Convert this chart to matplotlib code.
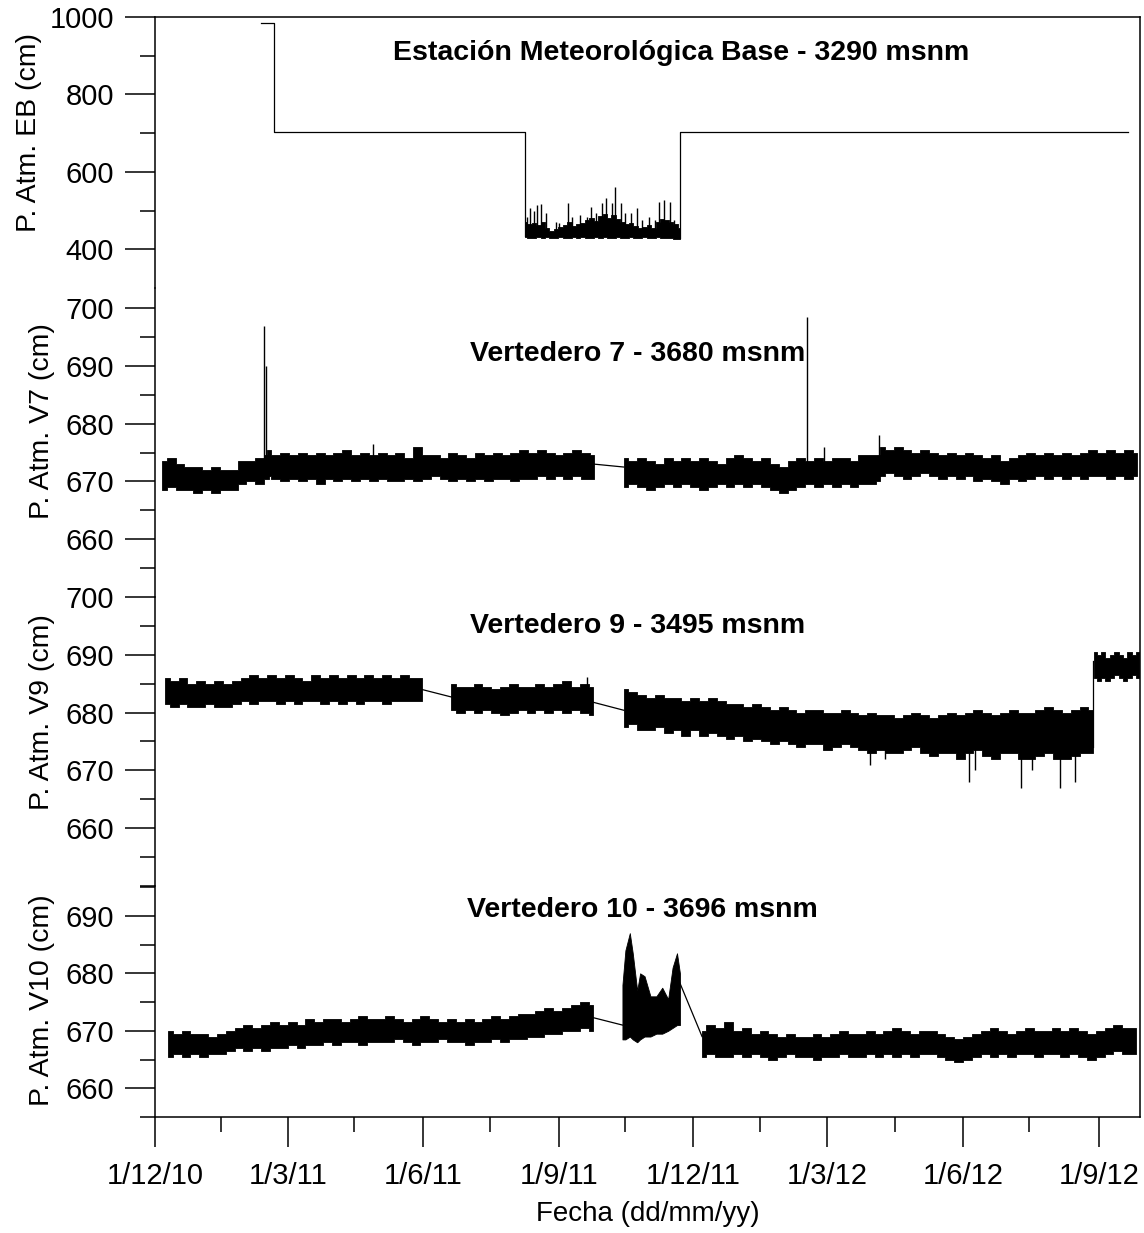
import matplotlib
matplotlib.use("Agg")
import matplotlib.pyplot as plt
import matplotlib.dates as mdates
from matplotlib.ticker import FixedLocator, FixedFormatter
import pandas as pd

plt.rcParams['font.family'] = ['Liberation Sans', 'DejaVu Sans']

# ---- x axis ----
x_ticks = ['2010-12-01', '2011-03-01', '2011-06-01', '2011-09-01', '2011-12-01',
           '2012-03-01', '2012-06-01', '2012-09-01']
x_labels = ['1/12/10', '1/3/11', '1/6/11', '1/9/11', '1/12/11', '1/3/12', '1/6/12', '1/9/12']
x_minor = ['2011-01-15', '2011-04-15', '2011-07-16', '2011-10-16', '2012-01-15',
           '2012-04-16', '2012-07-16']

titles = ['Estación Meteorológica Base - 3290 msnm', 'Vertedero 7 - 3680 msnm',
          'Vertedero 9 - 3495 msnm', 'Vertedero 10 - 3696 msnm']
ylabels = ['P. Atm. EB (cm)', 'P. Atm. V7 (cm)', 'P. Atm. V9 (cm)', 'P. Atm. V10 (cm)']

# ---- Estacion Base ----
eb_line1_dates = ['2011-02-11', '2011-02-20', '2011-02-20', '2011-08-09', '2011-08-09']
eb_line1_vals = [985, 985, 703, 703, 435]
eb_band_start = '2011-08-09'
eb_band_lo = [432, 430, 428, 431, 429, 432, 430, 428, 431, 430, 429, 432, 430, 431, 429, 430,
              432, 430, 431, 429, 430, 432, 430, 429, 431, 430, 428, 431, 430, 429, 431, 430,
              428, 429, 427, 426]
eb_band_hi = [470, 465, 468, 462, 470, 455, 448, 452, 458, 462, 470, 460, 465, 468, 475, 480,
              472, 485, 490, 482, 488, 478, 470, 465, 468, 460, 455, 458, 462, 455, 470, 478,
              475, 470, 465, 455]
eb_line2_dates = ['2011-11-22', '2011-11-22', '2012-09-21']
eb_line2_vals = [430, 703, 703]
eb_spike_dates = ['2011-08-10', '2011-08-12', '2011-08-15', '2011-08-17', '2011-08-20',
                  '2011-08-23', '2011-08-30', '2011-09-01', '2011-09-07', '2011-09-10',
                  '2011-09-15', '2011-09-20', '2011-09-23', '2011-09-26', '2011-09-30',
                  '2011-10-03', '2011-10-07', '2011-10-09', '2011-10-13', '2011-10-16',
                  '2011-10-20', '2011-10-24', '2011-10-27', '2011-11-01', '2011-11-05',
                  '2011-11-08', '2011-11-11', '2011-11-15', '2011-11-18']
eb_spike_tops = [483, 506, 500, 514, 516, 493, 470, 467, 519, 483, 488, 483, 509, 493, 519,
                 532, 519, 560, 519, 493, 493, 506, 475, 483, 475, 522, 527, 522, 475]

# ---- Vertedero 7 ----
v7_a_start = '2010-12-06'
v7_a_lo = [668.5, 669, 668.5, 668.5, 668, 668.5, 668, 668.5, 668.5, 669.5, 670, 669.5, 670.5]
v7_a_hi = [673.5, 674, 673, 672.5, 672.5, 672, 672.5, 672, 672, 673.5, 673.5, 674, 674.5]
v7_b_start = '2011-02-15'
v7_b_lo = [671, 670.5, 670, 670.5, 670, 670.5, 669.5, 670.5, 670, 670.5, 670, 670.5, 670,
           670.5, 670, 670, 670.5, 670, 670.5, 671, 670.5, 670, 670.5, 670, 670.5, 670, 670.5,
           670.5, 670, 670.5, 670.5, 671, 670.5, 671, 670.5, 671, 670.5, 670.5]
v7_b_hi = [675.5, 674.5, 675, 674.5, 675, 674.5, 675, 674.5, 675, 675.5, 674.5, 675, 674.5,
           675, 674.5, 675, 674, 676, 674.5, 674.5, 674, 675, 674.5, 674, 675, 674.5, 675,
           674.5, 675, 675.5, 675, 675.5, 675, 674.5, 675, 675.5, 675, 674.5]
v7_link_dates = ['2011-09-25', '2011-10-15']
v7_link_vals = [673, 672.5]
v7_c_start = '2011-10-15'
v7_c_lo = [669, 669.5, 669, 668.5, 669, 669.5, 669, 669.5, 669, 668.5, 669, 669.5, 669,
           669.5, 669, 669.5, 669, 668.5, 668, 668.5, 669, 669.5, 669, 669.5, 669, 669.5, 669,
           669.5, 669.5, 670]
v7_c_hi = [674, 673.5, 674, 673.5, 673, 674, 673.5, 674, 673.5, 674, 673.5, 673, 674, 674.5,
           674, 673.5, 674, 673, 672.5, 673.5, 674, 673.5, 674, 673.5, 674, 674, 673.5, 674.5,
           674.5, 674.5]
v7_d_start = '2012-04-06'
v7_d_lo = [671, 671.5, 671, 670.5, 671, 671.5, 671, 670.5, 671, 670.5, 671, 670, 670.5, 670,
           669.5, 670.5, 670, 670.5, 671, 670.5, 671, 670.5, 671, 670.5, 671, 671, 670.5, 671,
           670.5, 671]
v7_d_hi = [676, 675.5, 676, 675.5, 675, 675.5, 675, 674.5, 675, 674.5, 675, 674.5, 674, 674.5,
           673.5, 674, 674.5, 675, 674.5, 675, 674.5, 675, 674.5, 675, 675.5, 675, 675.5, 675,
           675.5, 675]
v7_spike_dates = ['2011-02-13', '2011-02-14', '2011-04-28', '2012-02-16', '2012-02-28', '2012-04-05']
v7_spike_base = [672, 672, 673, 671, 671, 672]
v7_spike_tops = [697, 690, 676.5, 698.5, 676, 678]

# ---- Vertedero 9 ----
v9_a_start = '2010-12-08'
v9_a_lo = [681.5, 681, 681.5, 681, 681, 681.5, 681, 681, 681.5, 682, 681.5, 682, 682, 681.5,
           682, 681.5, 682, 682, 681.5, 682, 681.5, 682, 681.5, 682, 682, 681.5, 682, 682, 682,
           682]
v9_a_hi = [686, 685.5, 686, 685, 685.5, 685, 685.5, 685, 685.5, 686, 686.5, 686, 686.5, 686,
           686.5, 686, 685.5, 686.5, 686, 686.5, 686, 686.5, 686, 686.5, 686, 686.5, 686,
           686.5, 686, 686]
v9_link1_dates = ['2011-05-31', '2011-06-20']
v9_link1_vals = [684, 682.7]
v9_b_start = '2011-06-20'
v9_b_lo = [680.5, 680, 680.5, 680, 680.5, 680, 679.5, 680, 680.5, 680, 680.5, 680, 680.5, 680,
           680.5, 680, 679.5]
v9_b_hi = [685, 684.5, 684.5, 685, 684.5, 684, 684.5, 685, 684.5, 684.5, 685, 684.5, 685,
           685.5, 684.5, 685, 684.5]
v9_link2_dates = ['2011-09-24', '2011-10-15']
v9_link2_vals = [681.8, 680.4]
v9_c_start = '2011-10-15'
v9_c_lo = [677.5, 678, 677, 677, 677.5, 676.5, 677, 676, 677, 676, 676.5, 676, 675.5, 676, 675,
           675.5, 675, 674.5, 675, 674.5, 674, 674.5, 674.5, 673.5, 674, 674.5, 674, 673.5, 673,
           673.5, 673, 673, 673.5, 674, 673, 672.5, 673, 673, 672, 673, 673.5, 672.5, 672, 673,
           673, 672, 672, 672.5, 673, 672, 672, 672.5, 673, 673]
v9_c_hi = [684, 683.5, 683, 682.5, 683, 682.5, 682.5, 682, 682.5, 682, 682.5, 682, 681.5, 681.5,
           681, 681.5, 681, 680.5, 681, 680.5, 680, 680.5, 680.5, 680, 680, 680.5, 680, 679.5,
           680, 679.5, 679.5, 679, 679.5, 680, 679.5, 679, 679.5, 680, 679.5, 680, 680.5, 680,
           679.5, 680, 680.5, 680, 680, 680.5, 681, 680.5, 680, 680.5, 681, 680.5]
v9_link3_dates = ['2012-08-28', '2012-08-28']
v9_link3_vals = [674, 689]
v9_d_start = '2012-08-29'
v9_d_lo = [686, 685.5, 686, 685.5, 686, 686.5, 686, 685.5, 686, 686.5, 686]
v9_d_hi = [690.5, 690, 690.5, 689.5, 690, 690.5, 690, 689.5, 690.5, 690, 690.5]
v9_spike_dates = ['2011-09-20', '2012-03-30', '2012-04-09', '2012-06-05', '2012-06-09',
                  '2012-07-10', '2012-07-18', '2012-08-06', '2012-08-16']
v9_spike_base = [684, 676, 676, 676, 676, 676, 676, 676, 676]
v9_spike_tops = [686.2, 671, 672, 668, 670, 667, 670, 667, 668]

# ---- Vertedero 10 ----
v10_a_start = '2010-12-10'
v10_a_lo = [665.5, 666, 665.5, 666, 665.5, 666, 666, 666.5, 667, 666.5, 667, 666.5, 667, 667,
            667.5, 667, 667.5, 667.5, 668, 667.5, 668, 668, 667.5, 668, 668, 668, 668.5, 668,
            667.5, 668, 668, 668.5, 668, 668, 667.5, 668, 668, 668.5, 668, 668.5, 668.5, 669,
            669, 669.5, 669.5, 670, 670, 670.5, 670]
v10_a_hi = [670, 669.5, 670, 669.5, 669.5, 669, 669.5, 670, 670.5, 671, 670.5, 671, 671.5,
            671, 671.5, 671, 672, 671.5, 672, 672, 671.5, 672, 672.5, 672, 672, 672.5, 672,
            671.5, 672, 672.5, 672, 671.5, 672, 671.5, 672, 671.5, 672, 672.5, 672, 672.5, 673,
            673, 673.5, 674, 673.5, 674, 674.5, 675, 674.5]
v10_link1_dates = ['2011-09-24', '2011-10-14']
v10_link1_vals = [672.3, 671]
v10_b_dates = ['2011-10-14', '2011-10-16', '2011-10-19', '2011-10-21', '2011-10-24',
               '2011-10-26', '2011-10-29', '2011-11-02', '2011-11-06', '2011-11-10',
               '2011-11-14', '2011-11-17', '2011-11-20', '2011-11-22']
v10_b_lo = [668.5, 668.5, 669, 668.5, 668, 668.5, 669, 669, 669.5, 669.5, 670, 670.5, 671, 671]
v10_b_hi = [678, 684, 687, 683.5, 677, 680, 679.5, 676, 676, 677.5, 675.5, 681, 683.5, 680]
v10_link2_dates = ['2011-11-22', '2011-12-07']
v10_link2_vals = [678.3, 669]
v10_c_start = '2011-12-07'
v10_c_lo = [665.5, 666, 665.5, 665.5, 666, 665.5, 666, 665.5, 665, 665.5, 666, 665.5, 665.5,
            665, 665.5, 665.5, 666, 665.5, 665.5, 666, 665.5, 666, 665.5, 666, 665.5, 666, 666,
            665.5, 665, 664.5, 665, 665.5, 666, 665.5, 666, 665.5, 666, 666, 665.5, 666, 666,
            665.5, 666, 665.5, 665, 665.5, 666, 666.5, 666, 666]
v10_c_hi = [670, 671, 670.5, 671.5, 670, 670.5, 669.5, 670, 669.5, 669, 669.5, 669, 669, 669.5,
            669, 669.5, 670, 669.5, 669.5, 670, 669.5, 670, 670.5, 670, 669.5, 670, 670, 669.5,
            669, 668.5, 669, 669.5, 670, 670.5, 670, 669.5, 670, 670.5, 670, 670, 670.5, 670,
            670.5, 670, 669.5, 670, 670.5, 671, 670.5, 670.5]


def band(ax, start, lo, hi, freq='6D'):
    d = pd.date_range(start, periods=len(lo), freq=freq)
    ax.fill_between(d, lo, hi, step='mid', facecolor='black', edgecolor='black', lw=0.6)


def line(ax, dates, vals):
    ax.plot(pd.to_datetime(dates), vals, color='black', lw=0.9)


def spikes(ax, dates, base, tops):
    ax.vlines(pd.to_datetime(dates), base, tops, color='black', lw=1.0)


W, H = 1144, 1233
fig = plt.figure(figsize=(W / 100, H / 100), dpi=100)

left, width = 155 / W, 985 / W
rows = [(17, 288), (288, 597), (597, 886), (886, 1117)]
axes = []
for top, bot in rows:
    ax = fig.add_axes([left, 1 - bot / H, width, (bot - top) / H])
    axes.append(ax)
ax1, ax2, ax3, ax4 = axes

# EB
line(ax1, eb_line1_dates, eb_line1_vals)
band(ax1, eb_band_start, eb_band_lo, eb_band_hi, freq='3D')
spikes(ax1, eb_spike_dates, [440] * len(eb_spike_dates), eb_spike_tops)
line(ax1, eb_line2_dates, eb_line2_vals)
ax1.set_ylim(300, 1000)
ax1.yaxis.set_major_locator(FixedLocator([400, 600, 800, 1000]))
ax1.yaxis.set_minor_locator(FixedLocator([500, 700, 900]))

# V7
band(ax2, v7_a_start, v7_a_lo, v7_a_hi)
band(ax2, v7_b_start, v7_b_lo, v7_b_hi)
line(ax2, v7_link_dates, v7_link_vals)
band(ax2, v7_c_start, v7_c_lo, v7_c_hi)
band(ax2, v7_d_start, v7_d_lo, v7_d_hi)
spikes(ax2, v7_spike_dates, v7_spike_base, v7_spike_tops)
ax2.set_ylim(650, 703.5)
ax2.yaxis.set_major_locator(FixedLocator([660, 670, 680, 690, 700]))
ax2.yaxis.set_minor_locator(FixedLocator([655, 665, 675, 685, 695]))

# V9
band(ax3, v9_a_start, v9_a_lo, v9_a_hi)
line(ax3, v9_link1_dates, v9_link1_vals)
band(ax3, v9_b_start, v9_b_lo, v9_b_hi)
line(ax3, v9_link2_dates, v9_link2_vals)
band(ax3, v9_c_start, v9_c_lo, v9_c_hi)
line(ax3, v9_link3_dates, v9_link3_vals)
band(ax3, v9_d_start, v9_d_lo, v9_d_hi, freq='3D')
spikes(ax3, v9_spike_dates, v9_spike_base, v9_spike_tops)
ax3.set_ylim(650, 700)
ax3.yaxis.set_major_locator(FixedLocator([660, 670, 680, 690, 700]))
ax3.yaxis.set_minor_locator(FixedLocator([650, 655, 665, 675, 685, 695]))

# V10
band(ax4, v10_a_start, v10_a_lo, v10_a_hi)
line(ax4, v10_link1_dates, v10_link1_vals)
ax4.fill_between(pd.to_datetime(v10_b_dates), v10_b_lo, v10_b_hi,
                 facecolor='black', edgecolor='black', lw=0.6)
line(ax4, v10_link2_dates, v10_link2_vals)
band(ax4, v10_c_start, v10_c_lo, v10_c_hi)
ax4.set_ylim(655, 695.2)
ax4.yaxis.set_major_locator(FixedLocator([660, 670, 680, 690]))
ax4.yaxis.set_minor_locator(FixedLocator([655, 665, 675, 685, 695]))

# x positions are the right edge of the rotated labels
label_pos = [(-0.1147, 0.572), (-0.1015, 0.570), (-0.1015, 0.602), (-0.1015, 0.506)]
xlim = (pd.Timestamp('2010-12-01'), pd.Timestamp('2012-09-29'))
for ax, lab, pos in zip(axes, ylabels, label_pos):
    ax.set_xlim(*xlim)
    ax.patch.set_alpha(0)
    for s in ['top', 'right', 'bottom']:
        ax.spines[s].set_visible(False)
    ax.spines['left'].set_linewidth(1.1)
    ax.tick_params(axis='y', which='major', direction='out', length=21.6, width=1.1,
                   labelsize=21, pad=8)
    ax.tick_params(axis='y', which='minor', direction='out', length=10.8, width=1.1)
    ax.set_ylabel(lab, fontsize=20.5)
    ax.yaxis.set_label_coords(*pos)
    if ax is not ax4:
        ax.set_xticks([])
        ax.xaxis.set_minor_locator(FixedLocator([]))

ax4.spines['bottom'].set_visible(True)
ax4.spines['bottom'].set_linewidth(1.1)
ax4.xaxis.set_major_locator(FixedLocator(mdates.date2num(pd.to_datetime(x_ticks))))
ax4.xaxis.set_major_formatter(FixedFormatter(x_labels))
ax4.xaxis.set_minor_locator(FixedLocator(mdates.date2num(pd.to_datetime(x_minor))))
ax4.tick_params(axis='x', which='major', direction='out', length=21.6, width=1.1,
                labelsize=21, pad=11)
ax4.tick_params(axis='x', which='minor', direction='out', length=11, width=1.1)
ax4.set_xlabel('Fecha (dd/mm/yy)', fontsize=20, labelpad=8)

# outer frame: top and right lines
frame = fig.add_axes([left, 1 - 1117 / H, width, 1100 / H])
frame.patch.set_alpha(0)
frame.set_xticks([])
frame.set_yticks([])
for s in ['left', 'bottom']:
    frame.spines[s].set_visible(False)
for s in ['top', 'right']:
    frame.spines[s].set_linewidth(1.1)

title_pos = [(681, 53), (638, 354), (638, 626), (642, 910)]
for t, (px, py) in zip(titles, title_pos):
    fig.text(px / W, 1 - py / H, t, ha='center', va='center', fontsize=20.5, fontweight='bold')

fig.savefig('out.png', dpi=100)
